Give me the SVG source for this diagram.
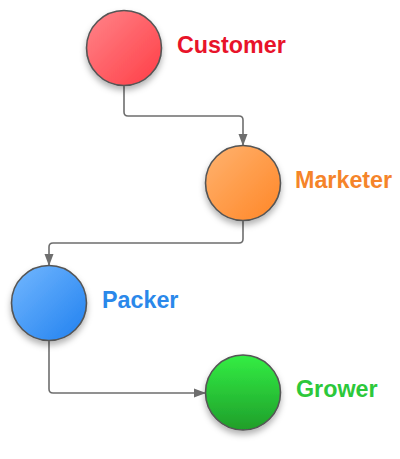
<svg xmlns="http://www.w3.org/2000/svg" width="400" height="459" viewBox="0 0 400 459">
<style>
.node{stroke:#555;stroke-width:1.6}
.lbl{font-family:"Liberation Sans",Arial,sans-serif;font-weight:bold;font-size:23.3px}
.conn{fill:none;stroke:#6e6e6e;stroke-width:1.6}
</style>
<defs>
<linearGradient id="gRed" x1="0" y1="0" x2="1" y2="1"><stop offset="0" stop-color="#ff858a"/><stop offset="1" stop-color="#ff3d45"/></linearGradient>
<linearGradient id="gOrange" x1="0" y1="0" x2="1" y2="1"><stop offset="0" stop-color="#ffb370"/><stop offset="1" stop-color="#ff8626"/></linearGradient>
<linearGradient id="gBlue" x1="0" y1="0" x2="1" y2="1"><stop offset="0" stop-color="#74b8ff"/><stop offset="1" stop-color="#1f80ef"/></linearGradient>
<linearGradient id="gGreen" x1="0" y1="0" x2="0" y2="1"><stop offset="0" stop-color="#33ee44"/><stop offset="1" stop-color="#1f9e2a"/></linearGradient>
<filter id="sh" x="-30%" y="-30%" width="160%" height="170%"><feDropShadow dx="0" dy="4" stdDeviation="3" flood-color="#000" flood-opacity="0.3"/></filter>
<marker id="arr" markerWidth="12" markerHeight="10" refX="11" refY="5" orient="auto" markerUnits="userSpaceOnUse"><path d="M0,0.5 L12,5 L0,9.5 z" fill="#6e6e6e"/></marker>
</defs>
<g id="connectors">
<path class="conn" d="M124,86 V112 Q124,116 128,116 H239 Q243,116 243,120 V145" marker-end="url(#arr)"/>
<path class="conn" d="M243,221 V239 Q243,243 239,243 H53 Q49,243 49,247 V265" marker-end="url(#arr)"/>
<path class="conn" d="M49,341 V389 Q49,393 53,393 H205" marker-end="url(#arr)"/>
</g>
<g id="customer">
<circle class="node" cx="124" cy="48" r="37.5" fill="url(#gRed)" filter="url(#sh)"/>
<text class="lbl" x="177" y="53" fill="#e8132a">Customer</text>
</g>
<g id="marketer">
<circle class="node" cx="243" cy="183" r="37.5" fill="url(#gOrange)" filter="url(#sh)"/>
<text class="lbl" x="295" y="188" fill="#f5842a">Marketer</text>
</g>
<g id="packer">
<circle class="node" cx="49" cy="303" r="37.5" fill="url(#gBlue)" filter="url(#sh)"/>
<text class="lbl" x="102" y="308" fill="#2a88ea">Packer</text>
</g>
<g id="grower">
<circle class="node" cx="243" cy="392.5" r="37.5" fill="url(#gGreen)" filter="url(#sh)"/>
<text class="lbl" x="296" y="397" fill="#2cc83a">Grower</text>
</g>
</svg>
